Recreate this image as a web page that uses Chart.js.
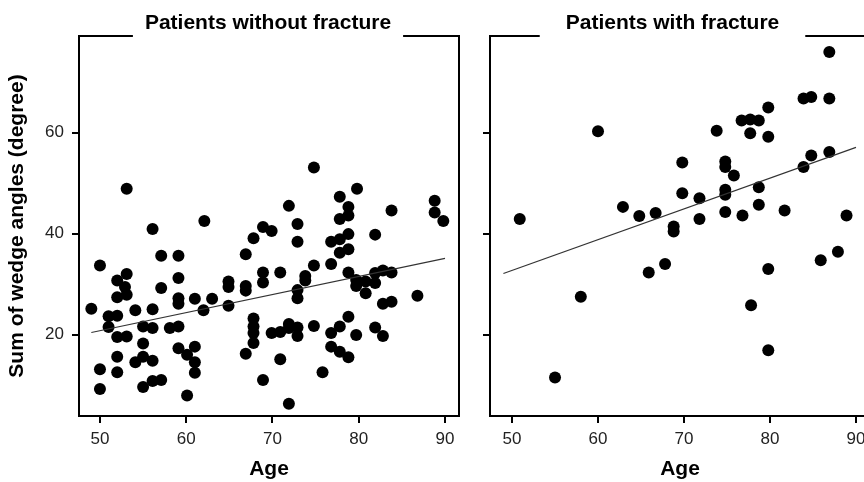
<!DOCTYPE html>
<html>
<head>
<meta charset="utf-8">
<script src="https://cdn.jsdelivr.net/npm/chart.js@4"></script>
<style>
  html, body { margin: 0; padding: 0; background: #fff; overflow: hidden; width: 864px; height: 482px; }
  .panel { position: absolute; top: 0; }
</style>
</head>
<body>
<div class="panel" style="left:0"><canvas id="noFracture" width="470" height="482"></canvas></div>
<div class="panel" style="left:480px"><canvas id="withFracture" width="400" height="482"></canvas></div>
<script>
// ages and angle sums
const noFxAge = [53.1, 62.1, 74.8, 79.8, 77.8, 71.9, 78.8, 83.8, 88.8, 88.8, 89.8, 77.8, 78.8, 72.9, 68.9, 69.9, 56.1, 67.8,
  50.0, 57.1, 59.1, 59.1, 57.1, 52.0, 53.1, 52.9, 52.0, 53.1, 66.9, 64.9, 64.9, 66.9, 66.9, 68.9, 68.9, 59.1, 59.1, 61.0,
  63.0, 64.9, 62.0, 56.1, 54.1, 49.0, 51.0, 51.0, 52.0, 55.0, 56.1, 58.1, 59.1, 52.0, 53.1, 55.0, 59.1, 60.1, 61.0, 61.0,
  61.0, 52.0, 54.1, 55.0, 56.1, 50.0, 52.0, 50.0, 55.0, 56.1, 57.1, 60.1, 68.9, 66.9, 67.8, 67.8, 67.8, 67.8, 69.9, 72.9,
  76.8, 77.8, 78.8, 77.8, 78.8, 81.9, 70.9, 73.8, 73.8, 74.8, 76.8, 78.8, 79.7, 79.7, 80.8, 80.8, 81.9, 81.9, 82.8, 83.8,
  72.9, 72.9, 82.8, 83.8, 86.8, 70.9, 71.9, 71.9, 72.9, 72.9, 74.8, 76.8, 77.8, 78.8, 79.7, 81.9, 82.8, 76.8, 77.8, 78.8,
  70.9, 75.8, 71.9];
const noFxAngle = [48.9, 42.5, 53.1, 48.9, 47.3, 45.5, 45.3, 44.6, 46.5, 44.2, 42.5, 42.9, 43.6, 41.9, 41.3, 40.5, 40.9, 39.1,
  33.7, 35.6, 35.6, 31.2, 29.2, 30.7, 32.0, 29.4, 27.4, 27.9, 35.9, 30.5, 29.4, 29.6, 28.7, 32.3, 30.3, 27.2, 26.1, 27.1,
  27.1, 25.7, 24.8, 25.0, 24.8, 25.1, 23.6, 21.5, 23.7, 21.6, 21.3, 21.3, 21.6, 19.5, 19.6, 18.2, 17.3, 16.0, 17.6, 14.5,
  12.4, 15.6, 14.5, 15.6, 14.8, 13.1, 12.5, 9.2, 9.6, 10.8, 11.0, 7.9, 11.0, 16.2, 23.2, 21.6, 20.3, 18.3, 20.3, 38.4,
  38.4, 38.9, 39.9, 36.2, 36.9, 39.8, 32.3, 31.6, 30.7, 33.7, 34.0, 32.3, 30.8, 29.6, 30.5, 28.2, 32.2, 30.2, 32.7, 32.3,
  28.8, 27.2, 26.1, 26.5, 27.7, 20.5, 22.1, 21.3, 21.4, 19.7, 21.7, 20.3, 21.6, 23.5, 19.9, 21.4, 19.7, 17.6, 16.6, 15.5,
  15.1, 12.5, 6.3];
const fxAge = [60.0, 50.9, 62.9, 64.8, 66.7, 68.8, 68.8, 86.9, 83.9, 84.8, 86.9, 79.8, 76.7, 77.7, 78.7, 77.7, 79.8, 73.8,
  69.8, 74.8, 74.8, 75.8, 84.8, 86.9, 83.9, 69.8, 71.8, 74.8, 74.8, 78.7, 78.7, 74.8, 76.8, 81.7, 88.9, 71.8, 67.8, 79.8,
  85.9, 87.9, 77.8, 79.8, 65.9, 58.0, 55.0];
const fxAngle = [60.3, 42.9, 45.3, 43.5, 44.1, 41.4, 40.4, 76.0, 66.8, 67.1, 66.8, 65.0, 62.4, 62.6, 62.4, 59.9, 59.2, 60.4,
  54.1, 54.3, 53.2, 51.5, 55.5, 56.2, 53.2, 48.0, 47.0, 48.7, 47.7, 49.2, 45.7, 44.3, 43.6, 44.6, 43.6, 42.9, 34.0, 33.0,
  34.7, 36.4, 25.8, 16.9, 32.3, 27.5, 11.5];
// fitted lines, end points
const noFxFitAge = [49, 90];
const noFxFitAngle = [20.4, 35.1];
const fxFitAge = [49, 90];
const fxFitAngle = [32.1, 57.1];
const xTicks = [50, 60, 70, 80, 90];
const yTicks = [20, 40, 60];

Chart.defaults.font.family = '"Liberation Sans", Arial, Helvetica, sans-serif';
Chart.defaults.color = '#111';

// box with the strip title set into a gap of the top line
const panelFrame = {
  id: 'panelFrame',
  afterDraw(chart, args, opts) {
    const { ctx, chartArea: a } = chart;
    ctx.save();
    ctx.font = 'bold 21px "Liberation Sans", Arial, sans-serif';
    const cx = (a.left + a.right) / 2 + opts.shift;
    const half = ctx.measureText(opts.text).width / 2 + opts.gap;
    ctx.strokeStyle = '#000';
    ctx.lineWidth = 2;
    ctx.beginPath();
    ctx.moveTo(cx - half, a.top);
    ctx.lineTo(a.left, a.top);
    ctx.lineTo(a.left, a.bottom);
    ctx.lineTo(a.right, a.bottom);
    ctx.lineTo(a.right, a.top);
    ctx.lineTo(cx + half, a.top);
    ctx.stroke();
    ctx.fillStyle = '#000';
    ctx.textAlign = 'center';
    ctx.textBaseline = 'alphabetic';
    ctx.fillText(opts.text, cx, 29);
    ctx.restore();
  }
};

function toPoints(xs, ys) {
  return xs.map((x, i) => ({ x: x, y: ys[i] }));
}

function makeChart(id, ages, angles, fitAge, fitAngle, o) {
  return new Chart(document.getElementById(id), {
    type: 'scatter',
    data: {
      datasets: [{
        type: 'line',
        data: toPoints(fitAge, fitAngle),
        borderColor: '#333',
        borderWidth: 1.2,
        pointRadius: 0,
        fill: false
      }, {
        data: toPoints(ages, angles),
        backgroundColor: '#000',
        borderWidth: 0,
        pointRadius: 6
      }]
    },
    options: {
      responsive: false,
      animation: false,
      layout: { padding: { top: 36, right: o.padRight, left: 0, bottom: 0 } },
      plugins: {
        legend: { display: false },
        tooltip: { enabled: false },
        panelFrame: { text: o.title, gap: o.gap, shift: o.shift }
      },
      scales: {
        x: {
          type: 'linear',
          min: o.xMin,
          max: o.xMax,
          afterBuildTicks: s => { s.ticks = xTicks.map(v => ({ value: v })); },
          afterFit: s => { s.height = 66; },
          border: { display: false },
          grid: { drawOnChartArea: false, tickLength: 7, color: '#000', lineWidth: 2 },
          ticks: { font: { size: 17 }, color: '#222', padding: 6, maxRotation: 0 },
          title: { display: true, text: 'Age', color: '#000', font: { size: 21, weight: 'bold' }, padding: 0 }
        },
        y: {
          type: 'linear',
          min: 3.85,
          max: 79.17,
          afterBuildTicks: s => { s.ticks = yTicks.map(v => ({ value: v })); },
          afterFit: s => { s.width = o.yWidth; },
          border: { display: false },
          grid: { drawOnChartArea: false, tickLength: 7, color: '#000', lineWidth: 2 },
          ticks: { display: o.showY, font: { size: 17 }, color: '#222', padding: 8 },
          title: { display: o.showY, text: 'Sum of wedge angles (degree)', color: '#000',
                   font: { size: 21, weight: 'bold' }, padding: { top: 5, bottom: 0 } }
        }
      }
    },
    plugins: [panelFrame]
  });
}

makeChart('noFracture', noFxAge, noFxAngle, noFxFitAge, noFxFitAngle, {
  title: 'Patients without fracture', gap: 12, shift: -1,
  xMin: 47.57, xMax: 91.62, yWidth: 79, showY: true, padRight: 11
});
makeChart('withFracture', fxAge, fxAngle, fxFitAge, fxFitAngle, {
  title: 'Patients with fracture', gap: 26, shift: -7.5,
  xMin: 47.44, xMax: 91.63, yWidth: 10, showY: false, padRight: 10
});
</script>
</body>
</html>
